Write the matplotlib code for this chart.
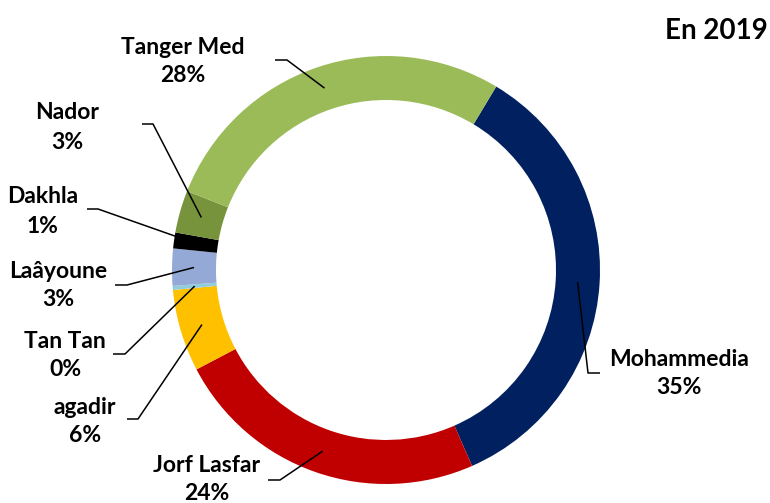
import numpy as np
import matplotlib.pyplot as plt

# parts des ports, dans le sens horaire en partant de Mohammedia
ports = ["Mohammedia", "Jorf Lasfar", "agadir", "Tan Tan", "Laâyoune",
         "Dakhla", "Nador", "Tanger Med"]
parts = [34.8, 23.9, 6.2, 0.3, 2.8, 1.2, 3.2, 27.6]
couleurs = ["#002060", "#C00000", "#FFC000", "#92CDDC", "#94A9D6",
            "#000000", "#77933C", "#9BBB59"]
titre = "En 2019"

W, H = 770, 503
plt.rcParams['font.family'] = ['Lato', 'DejaVu Sans']

fig = plt.figure(figsize=(W / 100, H / 100), dpi=100)
ax = fig.add_axes([0, 0, 1, 1])

cx, cy = 386, H - 270
r_out, ring = 214, 44
start = 59

ax.pie(parts, colors=couleurs, startangle=start, counterclock=False,
       center=(cx, cy), radius=r_out, frame=True,
       wedgeprops=dict(width=ring, linewidth=0))
ax.set_xlim(0, W)
ax.set_ylim(0, H)
ax.set_aspect('equal')
ax.axis('off')

# position des etiquettes (pixels, origine en haut a gauche)
# (x texte, y ligne 1, y ligne 2, x fin trait, x coude, y trait)
etiquettes = {
    "Mohammedia": (679, 360, 388, 600, 588, 373),
    "Jorf Lasfar": (207, 466, 493, 268, 280, 480),
    "agadir": (85, 407, 436, 127, 138, 419),
    "Tan Tan": (65, 342, 370, 113, 125, 354),
    "Laâyoune": (58, 271, 299, 115, 127, 285),
    "Dakhla": (43, 196, 226, 87, 98, 209),
    "Nador": (67, 112, 142, 142, 153, 124),
    "Tanger Med": (183, 47, 75, 275, 287, 60),
}

total = sum(parts)
cum = 0
r_mid = r_out - ring / 2
for nom, v in zip(ports, parts):
    theta = np.radians(start - 360 * (cum + v / 2) / total)
    cum += v
    x0 = cx + r_mid * np.cos(theta)
    y0 = cy + r_mid * np.sin(theta)
    tx, y1, y2, xe, xc, yl = etiquettes[nom]
    ax.plot([x0, xc, xe], [y0, H - yl, H - yl], color='black', lw=1.1,
            solid_capstyle='butt')
    ax.text(tx, H - y1, nom, ha='center', va='center', fontsize=16.5,
            fontweight='bold')
    ax.text(tx, H - y2, f"{round(v * 100 / total):.0f}%", ha='center',
            va='center', fontsize=16.5, fontweight='bold')

ax.text(716, H - 31, titre, ha='center', va='center', fontsize=20,
        fontweight='bold')

fig.savefig("out.png", dpi=100)
